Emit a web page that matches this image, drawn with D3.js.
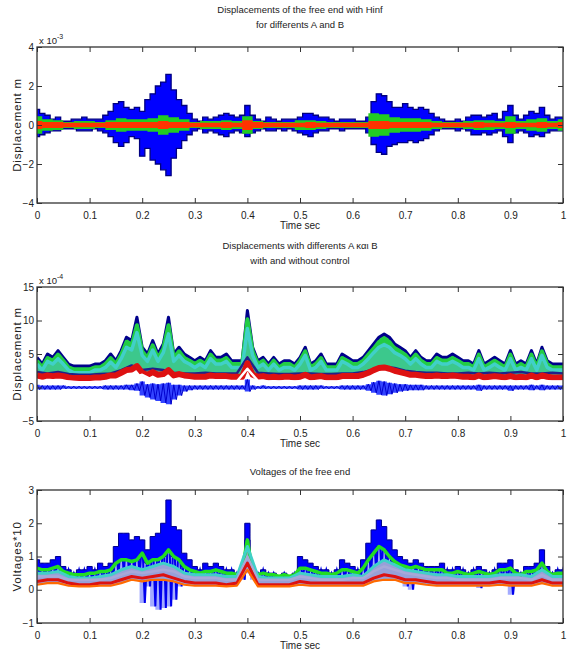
<!DOCTYPE html>
<html>
<head>
<meta charset="utf-8">
<script src="https://cdn.jsdelivr.net/npm/d3@7"></script>
<style>
body { margin: 0; background: #fff; }
text { font-family: "Liberation Sans", Arial, sans-serif; fill: #222; }
</style>
</head>
<body>
<div id="wrapper"></div>
<script>
// x ticks, shared by the three panels
const xTicks = [0, 0.1, 0.2, 0.3, 0.4, 0.5, 0.6, 0.7, 0.8, 0.9, 1];

// ---- panel 1 : displacement, x 10^-3 (envelopes every 0.01 s) ----
const p1BlueHi = [0.8,0.6,0.5,0.3,0.4,0.2,0.2,0.3,0.3,0.4, 0.3,0.3,0.3,0.5,0.7,1.1,1.2,0.9,0.8,0.9,
  0.7,1.3,1.6,2.0,2.2,2.6,1.8,1.3,1.0,0.6, 0.3,0.2,0.4,0.3,0.4,0.5,0.6,0.5,0.4,0.5,
  1.0,0.5,0.3,0.2,0.4,0.3,0.2,0.3,0.3,0.3, 0.4,0.6,0.6,0.5,0.4,0.4,0.3,0.2,0.3,0.3,
  0.3,0.2,0.2,0.4,1.2,1.6,1.5,1.2,0.9,0.9, 1.1,0.9,0.8,0.9,0.8,0.6,0.4,0.3,0.2,0.2,
  0.3,0.2,0.4,0.5,0.5,0.4,0.5,0.6,0.3,0.7, 1.0,0.5,0.3,0.5,0.7,0.6,0.9,0.5,0.3,0.4, 0.4];
const p1BlueLo = [-0.6,-0.5,-0.4,-0.3,-0.3,-0.2,-0.2,-0.2,-0.3,-0.3, -0.3,-0.2,-0.3,-0.4,-0.6,-0.9,-1.1,-0.9,-0.6,-0.7,
  -1.6,-1.2,-1.8,-2.0,-2.3,-2.6,-1.7,-1.2,-0.8,-0.5, -0.3,-0.2,-0.4,-0.3,-0.4,-0.5,-0.6,-0.4,-0.3,-0.4,
  -0.6,-0.4,-0.3,-0.2,-0.3,-0.3,-0.2,-0.3,-0.2,-0.3, -0.4,-0.5,-0.6,-0.4,-0.3,-0.3,-0.2,-0.2,-0.3,-0.2,
  -0.2,-0.2,-0.2,-0.4,-1.0,-1.4,-1.5,-1.1,-1.0,-0.9, -0.9,-0.8,-0.9,-0.8,-0.7,-0.5,-0.3,-0.2,-0.2,-0.2,
  -0.3,-0.2,-0.3,-0.5,-0.5,-0.4,-0.5,-0.4,-0.3,-0.6, -0.9,-0.4,-0.3,-0.4,-0.6,-0.5,-0.6,-0.4,-0.3,-0.3, -0.3];
// amplitudes every 0.02 s
const p1Green = [0.45,0.3,0.25,0.15,0.2,0.2,0.15,0.25,0.35,0.3, 0.3,0.35,0.5,0.4,0.3,0.15,0.2,0.2,0.25,0.2,
  0.45,0.2,0.15,0.15,0.15,0.25,0.25,0.2,0.15,0.15, 0.15,0.15,0.6,0.55,0.4,0.35,0.35,0.3,0.2,0.15,
  0.15,0.2,0.25,0.25,0.2,0.45,0.2,0.3,0.35,0.2, 0.3];
const p1Red = [0.2,0.15,0.15,0.12,0.12,0.12,0.12,0.15,0.15,0.15, 0.15,0.15,0.2,0.15,0.15,0.12,0.12,0.12,0.15,0.12,
  0.25,0.15,0.12,0.12,0.12,0.12,0.15,0.12,0.12,0.12, 0.12,0.12,0.2,0.2,0.15,0.15,0.15,0.15,0.12,0.12,
  0.12,0.12,0.15,0.12,0.12,0.15,0.12,0.12,0.15,0.12, 0.15];

// ---- panel 2 : displacement with and without control, x 10^-4 ----
const p2Top = [4.5,3.5,5,4.5,5.5,4.5,3.5,3.2,3.2,3.2, 3.2,3.5,3.5,4,5,4,5.5,7.5,7,10.5,
  6,5,7,5,6.5,10.5,5,6,5,4.5, 4,4.5,4,5.5,4.5,4.5,5,4,4,4,
  11.5,6,4,4.5,3.5,4.5,3.5,4,4,3.5, 4.5,6,3.5,4,5,3.5,3.5,3.5,5,4.5,
  4,4,4.5,5.5,6.5,7.5,8,7.5,6.5,6, 5.5,4.5,5.5,4.5,4,4,5,4.5,4.5,5,
  4.5,4,4,3.5,5.5,3.5,4,4.5,4,3.5, 5.5,3.5,4,3.5,5.5,3.5,6,4,3.5,3.5, 3.5];
const p2Green = [4,3,4.4,4,4.9,4,3,2.7,2.7,2.7, 2.7,3,3,3.5,4.4,3.5,4.9,6.8,6.3,9.3,
  5.4,4.4,6.3,4.4,5.8,9.3,4.4,5.4,4.4,4, 3.5,4,3.5,4.9,4,4,4.4,3.5,3.5,3.5,
  10.2,5.4,3.5,4,3,4,3,3.5,3.5,3, 4,5.4,3,3.5,4.4,3,3,3,4.4,4,
  3.5,3.5,4,4.9,5.8,6.8,7.2,6.8,5.8,5.4, 4.9,4,4.9,4,3.5,3.5,4.4,4,4,4.4,
  4,3.5,3.5,3,4.9,3,3.5,4,3.5,3, 4.9,3,3.5,3,4.9,3,5.4,3.5,3,3, 3];
const p2Cyan = [3.5,2.6,3.9,3.5,4.3,3.5,2.6,2.2,2.2,2.2, 2.2,2.6,2.6,3,3.8,3,4.3,6,5.6,8.2,
  4.8,3.9,5.6,3.9,5.2,8,3.9,4.8,3.9,3.5, 3,3.5,3,4.3,3.5,3.5,3.9,3,3,3,
  8.8,4.8,3,3.5,2.6,3.5,2.6,3,3,2.6, 3.5,4.8,2.6,3,3.9,2.6,2.6,2.6,3.9,3.5,
  3,3,3.5,4.3,5.2,6,6.4,6,5.2,4.8, 4.3,3.5,4.3,3.5,3,3,3.9,3.5,3.5,3.9,
  3.5,3,3,2.6,4.3,2.6,3,3.5,3,2.6, 4.3,2.6,3,2.6,4.3,2.6,4.8,3,2.6,2.6, 2.6];
// every 0.02 s
const p2Navy = [2.3,2.1,2.3,2,1.9,1.9,2,2.1,2.6,3.3, 2.6,2.8,2.6,2.2,2.1,2.1,2.2,2.1,2.1,2.1,
  4.5,2.2,2.1,2,2,2.1,2.1,2,2,2.1, 2.1,2.3,2.7,3.1,2.9,2.5,2.3,2.2,2.2,2.1,
  2.1,2.2,2.1,2.2,2.1,2.2,2.3,2.1,2.1,2.2, 2.1];
const p2Red = [1.8,1.6,1.8,1.7,1.8,1.7,1.5,1.4,1.4,1.4, 1.4,1.5,1.5,1.6,1.8,1.8,2.2,2.6,2.7,3.2,
  2.2,1.9,2.3,1.9,2,2.6,1.8,2,1.8,1.7, 1.6,1.6,1.6,1.8,1.7,1.7,1.7,1.6,1.6,1.6,
  3.6,1.9,1.6,1.7,1.5,1.6,1.5,1.6,1.6,1.5, 1.6,1.9,1.5,1.6,1.7,1.5,1.5,1.5,1.7,1.7,
  1.7,1.7,1.9,2.2,2.6,2.9,3,2.8,2.5,2.3, 2.1,1.9,1.9,1.8,1.7,1.7,1.8,1.7,1.7,1.8,
  1.7,1.6,1.6,1.5,1.8,1.5,1.6,1.7,1.6,1.5, 1.7,1.5,1.6,1.5,1.8,1.5,1.8,1.6,1.5,1.5, 1.5];
const p2White = [1,0.9,0.9,0.9,0.8,0.8,0.8,0.9,1.1,1.3, 1.9,1.1,1,1,0.9,0.9,0.9,0.9,0.9,0.9,
  2.8,1,0.9,0.9,0.9,0.9,0.9,0.9,0.9,0.9, 0.9,0.9,1.1,1.3,1.2,1.1,1,1,1,0.9,
  0.9,0.9,0.9,0.9,0.9,0.9,0.9,0.9,0.9,0.9, 0.9];
const p2ZeroHi = [0.4,0.3,0.3,0.3,0.3,0.3,0.2,0.2,0.2,0.2, 0.2,0.2,0.2,0.3,0.3,0.3,0.3,0.4,0.4,0.6,
  0.9,0.5,0.6,0.5,0.6,0.7,0.4,0.4,0.3,0.3, 0.3,0.3,0.3,0.3,0.3,0.3,0.3,0.3,0.3,0.3,
  1.2,0.3,0.2,0.3,0.2,0.2,0.2,0.2,0.2,0.2, 0.3,0.3,0.3,0.3,0.3,0.2,0.2,0.2,0.3,0.3,
  0.3,0.3,0.3,0.5,0.8,1,0.9,0.7,0.6,0.5, 0.5,0.4,0.4,0.4,0.3,0.3,0.3,0.3,0.3,0.3,
  0.3,0.3,0.3,0.3,0.4,0.3,0.3,0.3,0.3,0.3, 0.3,0.3,0.3,0.3,0.4,0.3,0.4,0.3,0.3,0.3, 0.3];
const p2ZeroLo = [-0.3,-0.3,-0.3,-0.3,-0.3,-0.2,-0.2,-0.2,-0.2,-0.2, -0.2,-0.2,-0.2,-0.3,-0.3,-0.3,-0.3,-0.3,-0.4,-0.5,
  -1.2,-1.5,-1.8,-2,-2.3,-2.5,-1.8,-1.2,-0.6,-0.4, -0.3,-0.3,-0.3,-0.3,-0.3,-0.3,-0.3,-0.3,-0.3,-0.3,
  -0.6,-0.3,-0.2,-0.2,-0.2,-0.2,-0.2,-0.2,-0.2,-0.2, -0.3,-0.3,-0.3,-0.3,-0.2,-0.2,-0.2,-0.2,-0.3,-0.3,
  -0.3,-0.3,-0.3,-0.5,-0.8,-1.1,-1.2,-1,-0.8,-0.6, -0.5,-0.4,-0.4,-0.4,-0.3,-0.3,-0.3,-0.3,-0.3,-0.3,
  -0.3,-0.3,-0.3,-0.3,-0.5,-0.3,-0.3,-0.3,-0.3,-0.3, -0.5,-0.3,-0.3,-0.3,-0.4,-0.3,-0.4,-0.3,-0.3,-0.3, -0.3];

// ---- panel 3 : voltages*10 ----
const p3BlueHi = [0.9,0.8,0.8,0.9,1,0.7,0.6,0.5,0.6,0.6, 0.7,0.6,0.8,0.7,0.8,1.3,1.7,1.7,1.5,1.6,
  1.5,1.2,1.6,1.7,2,2.7,1.9,1.8,1.1,0.9, 0.7,0.6,0.8,0.7,0.8,0.7,0.6,0.6,0.5,0.7,
  2,0.6,0.5,0.6,0.5,0.5,0.4,0.5,0.4,0.5, 1,0.9,0.8,0.7,0.6,0.6,0.5,0.6,0.9,0.8,
  0.7,0.6,0.9,1.4,1.8,2.1,1.9,1.5,1.2,1, 0.9,0.8,0.9,0.8,0.7,0.7,0.7,0.8,0.6,0.6,
  0.7,0.6,0.5,0.6,0.7,0.6,0.5,0.6,0.8,0.8, 0.9,0.6,0.5,0.7,0.7,0.8,1.2,0.7,0.5,0.6, 0.6];
const p3BlueLo = [0.4,0.4,0.4,0.4,0.4,0.35,0.3,0.3,0.3,0.3, 0.3,0.3,0.3,0.3,0.35,0.4,0.45,0.45,0.45,0.4,
  -0.4,0.1,-0.5,-0.6,-0.55,-0.5,-0.3,0.1,0.3,0.35, 0.3,0.3,0.3,0.3,0.3,0.3,0.3,0.3,0.3,0.3,
  0.5,0.3,0.3,0.3,0.3,0.3,0.3,0.3,0.3,0.3, 0.3,0.3,0.3,0.3,0.3,0.3,0.3,0.3,0.3,0.3,
  0.3,0.3,0.35,0.4,0.5,0.55,0.5,0.45,0.4,0.35, 0.1,0.0,0.2,0.3,0.3,0.3,0.3,0.3,0.3,0.3,
  0.3,0.3,0.3,0.3,0.05,0.3,0.3,0.3,0.3,0.3, -0.15,0.3,0.3,0.3,0.3,0.3,0.3,0.3,0.3,0.3, 0.3];
const p3Green = [0.65,0.6,0.6,0.65,0.7,0.55,0.5,0.45,0.45,0.45, 0.5,0.5,0.55,0.55,0.6,0.8,0.9,0.9,0.85,0.9,
  1.1,0.8,0.9,0.9,1,1.2,1,0.9,0.7,0.6, 0.55,0.5,0.55,0.55,0.6,0.55,0.5,0.5,0.45,0.6,
  1.5,0.5,0.45,0.5,0.45,0.45,0.4,0.45,0.4,0.45, 0.65,0.65,0.6,0.55,0.5,0.5,0.45,0.5,0.6,0.6,
  0.55,0.5,0.65,0.9,1.1,1.3,1.2,1,0.85,0.75, 0.7,0.65,0.7,0.65,0.6,0.6,0.6,0.6,0.5,0.5,
  0.55,0.5,0.45,0.5,0.55,0.5,0.45,0.5,0.6,0.6, 0.65,0.5,0.45,0.55,0.55,0.6,0.8,0.55,0.45,0.5, 0.5];
// every 0.02 s
const p3Cyan = [0.5,0.5,0.55,0.4,0.35,0.35,0.4,0.45,0.6,0.7, 0.6,0.7,0.8,0.7,0.5,0.45,0.45,0.45,0.4,0.4,
  1.3,0.4,0.35,0.35,0.35,0.5,0.45,0.4,0.4,0.4, 0.45,0.4,0.7,0.9,0.75,0.6,0.55,0.5,0.45,0.45,
  0.4,0.4,0.4,0.4,0.45,0.45,0.45,0.4,0.6,0.4, 0.4];
const p3Grey = [0.4,0.4,0.4,0.3,0.3,0.3,0.3,0.35,0.45,0.55, 0.5,0.55,0.6,0.55,0.4,0.35,0.35,0.35,0.3,0.3,
  1.0,0.3,0.3,0.3,0.3,0.4,0.35,0.3,0.3,0.3, 0.35,0.35,0.55,0.7,0.6,0.5,0.45,0.4,0.35,0.35,
  0.3,0.3,0.3,0.3,0.35,0.35,0.35,0.3,0.45,0.3, 0.3];
const p3Red = [0.25,0.3,0.3,0.2,0.15,0.15,0.2,0.2,0.3,0.4, 0.35,0.4,0.45,0.35,0.25,0.2,0.2,0.2,0.15,0.2,
  0.8,0.15,0.15,0.15,0.15,0.25,0.2,0.2,0.2,0.2, 0.2,0.2,0.35,0.45,0.4,0.3,0.3,0.25,0.2,0.2,
  0.2,0.2,0.2,0.2,0.25,0.2,0.2,0.2,0.3,0.2, 0.2];
const p3Orange = [0.15,0.2,0.2,0.12,0.1,0.1,0.12,0.12,0.2,0.3, 0.25,0.3,0.3,0.25,0.15,0.12,0.12,0.12,0.1,0.12,
  0.6,0.1,0.1,0.1,0.1,0.15,0.12,0.12,0.12,0.12, 0.12,0.12,0.25,0.3,0.3,0.2,0.2,0.15,0.12,0.12,
  0.12,0.12,0.12,0.12,0.15,0.12,0.12,0.12,0.2,0.12, 0.12];

const titles1 = ["Displacements of the free end with Hinf", "for differents A and B"];
const titles2 = ["Displacements with differents A και B", "with and without control"];
const titles3 = ["Voltages of the free end"];

function buildChart() {
    const width = 569, height = 670;
    const left = 37, right = 563;

    const svg = d3.select("#wrapper").append("svg")
        .attr("width", width).attr("height", height);

    const x = d3.scaleLinear().domain([0, 1]).range([left, right]);

    // time of sample i in an array of n samples spanning 0..1 s
    const tOf = (i, n) => i / (n - 1);
    const fmt = d3.format("");

    function panel(cfg) {
        const y = d3.scaleLinear().domain(cfg.domain).range([cfg.bottom, cfg.top]);
        const g = svg.append("g");
        const clipId = "clip" + cfg.id;
        svg.append("clipPath").attr("id", clipId)
            .append("rect").attr("x", left).attr("y", cfg.top)
            .attr("width", right - left).attr("height", cfg.bottom - cfg.top);
        const plot = g.append("g").attr("clip-path", `url(#${clipId})`);

        cfg.titles.forEach((t, k) => {
            svg.append("text").attr("x", (left + right) / 2).attr("y", cfg.titleY + k * 15)
                .attr("text-anchor", "middle").style("font-size", "9.5px").text(t);
        });

        // axes: inward ticks on all four sides, MATLAB style
        const axes = svg.append("g");
        axes.append("g").attr("transform", `translate(0,${cfg.bottom})`)
            .call(d3.axisBottom(x).tickValues(xTicks).tickSizeInner(-5).tickSizeOuter(0).tickPadding(9).tickFormat(fmt))
            .call(a => a.select(".domain").remove())
            .call(a => a.selectAll("text").style("font-size", "10px").attr("fill", "#222"));
        axes.append("g").attr("transform", `translate(0,${cfg.top})`)
            .call(d3.axisTop(x).tickValues(xTicks).tickSizeInner(-5).tickSizeOuter(0).tickFormat(""))
            .call(a => a.select(".domain").remove());
        axes.append("g").attr("transform", `translate(${left},0)`)
            .call(d3.axisLeft(y).tickValues(cfg.yTicks).tickSizeInner(-5).tickSizeOuter(0).tickPadding(3).tickFormat(fmt))
            .call(a => a.select(".domain").remove())
            .call(a => a.selectAll("text").style("font-size", "10px").attr("fill", "#222"));
        axes.append("g").attr("transform", `translate(${right},0)`)
            .call(d3.axisRight(y).tickValues(cfg.yTicks).tickSizeInner(-5).tickSizeOuter(0).tickFormat(""))
            .call(a => a.select(".domain").remove());
        axes.selectAll(".tick line").attr("stroke", "#333");

        axes.append("rect").attr("x", left).attr("y", cfg.top)
            .attr("width", right - left).attr("height", cfg.bottom - cfg.top)
            .attr("fill", "none").attr("stroke", "#333").attr("stroke-width", 1.3);

        svg.append("text").attr("x", (left + right) / 2).attr("y", cfg.bottom + 26)
            .attr("text-anchor", "middle").style("font-size", "10px").text("Time sec");

        svg.append("text")
            .attr("transform", `translate(21,${(cfg.top + cfg.bottom) / 2}) rotate(-90)`)
            .attr("text-anchor", "middle").style("font-size", "11.5px").style("letter-spacing", "0.8px")
            .text(cfg.yLabel);

        if (cfg.exp) {
            const e = svg.append("text").attr("x", left + 2).attr("y", cfg.top - 3).style("font-size", "9.5px");
            e.append("tspan").text("x 10");
            e.append("tspan").attr("dy", -5).style("font-size", "7px").text(cfg.exp);
        }
        return { plot, y };
    }

    // dense oscillation drawn as a zigzag between window max and window min
    function zigzag(plot, y, hi, lo, color, w) {
        const n = hi.length, half = 0.5 / (n - 1);
        const pts = [];
        hi.forEach((h, i) => {
            pts.push([tOf(i, n), h]);
            pts.push([tOf(i, n) + half, lo[i]]);
        });
        plot.append("path").datum(pts)
            .attr("d", d3.line().x(d => x(d[0])).y(d => y(d[1])))
            .attr("fill", "none").attr("stroke", color).attr("stroke-width", w);
    }
    // filled envelope between two series of the same length
    function band(plot, y, hi, lo, fill, stroke, sw, curve, op) {
        const n = hi.length;
        plot.append("path").datum(hi)
            .attr("d", d3.area().curve(curve || d3.curveLinear)
                .x((d, i) => x(tOf(i, n))).y1(d => y(d)).y0((d, i) => y(lo[i])))
            .attr("fill", fill).attr("fill-opacity", op || 1)
            .attr("stroke", stroke || "none").attr("stroke-width", sw || 0);
    }
    // symmetric envelope +amp / -amp
    function symBand(plot, y, amp, fill) {
        const n = amp.length;
        plot.append("path").datum(amp)
            .attr("d", d3.area().curve(d3.curveStep)
                .x((d, i) => x(tOf(i, n))).y1(d => y(d)).y0(d => y(-d)))
            .attr("fill", fill);
    }
    function thick(plot, y, vals, color, w) {
        const n = vals.length;
        plot.append("path").datum(vals)
            .attr("d", d3.line().x((d, i) => x(tOf(i, n))).y(d => y(d)))
            .attr("fill", "none").attr("stroke", color).attr("stroke-width", w)
            .attr("stroke-linejoin", "round");
    }

    // panel 1
    const a = panel({ id: 1, top: 47, bottom: 203, domain: [-4, 4], yTicks: [-4, -2, 0, 2, 4],
        titles: titles1, titleY: 13, yLabel: "Displacement m", exp: "-3" });
    band(a.plot, a.y, p1BlueHi, p1BlueLo, "#0000ff", "#000080", 1.3, d3.curveStep);
    symBand(a.plot, a.y, p1Green, "#22cc22");
    symBand(a.plot, a.y, p1Red, "#ff3300");

    // panel 2
    const b = panel({ id: 2, top: 287, bottom: 421, domain: [-5, 15], yTicks: [-5, 0, 5, 10, 15],
        titles: titles2, titleY: 249, yLabel: "Displacement m", exp: "-4" });
    band(b.plot, b.y, p2Top, p2Cyan, "#2ac84a");
    band(b.plot, b.y, p2Cyan, p2Red, "#3cc88c");
    thick(b.plot, b.y, p2Top, "#00008b", 3);
    thick(b.plot, b.y, p2Green, "#22cc44", 4);
    thick(b.plot, b.y, p2Cyan, "#40d0c8", 3.5);
    thick(b.plot, b.y, p2Navy, "#20208a", 2.5);
    thick(b.plot, b.y, p2Red, "#dd1111", 6);
    thick(b.plot, b.y, p2White, "#ffffff", 2.5);
    band(b.plot, b.y, p2ZeroHi, p2ZeroLo, "#3344ff", null, 0, d3.curveStep);
    zigzag(b.plot, b.y, p2ZeroHi, p2ZeroLo, "#0000cc", 1);

    // panel 3
    const c = panel({ id: 3, top: 490, bottom: 623, domain: [-1, 3], yTicks: [-1, 0, 1, 2, 3],
        titles: titles3, titleY: 475, yLabel: "Voltages*10" });
    band(c.plot, c.y, p3BlueHi, p3BlueLo, "#3344ff", null, 0, d3.curveStep, 0.45);
    zigzag(c.plot, c.y, p3BlueHi, p3BlueLo, "#0000ee", 2);
    band(c.plot, c.y, p3BlueHi, p3Green, "#0000ff", "#000090", 1, d3.curveStep);
    band(c.plot, c.y, p3Cyan, p3Orange, "#98a0d8");
    thick(c.plot, c.y, p3Green, "#22dd22", 3.5);
    thick(c.plot, c.y, p3Cyan, "#40d0c8", 3);
    thick(c.plot, c.y, p3Grey, "#a8a8d8", 2.5);
    thick(c.plot, c.y, p3Red, "#dd1111", 3);
    thick(c.plot, c.y, p3Orange, "#ff6a00", 2.2);
}

buildChart();
</script>
</body>
</html>
